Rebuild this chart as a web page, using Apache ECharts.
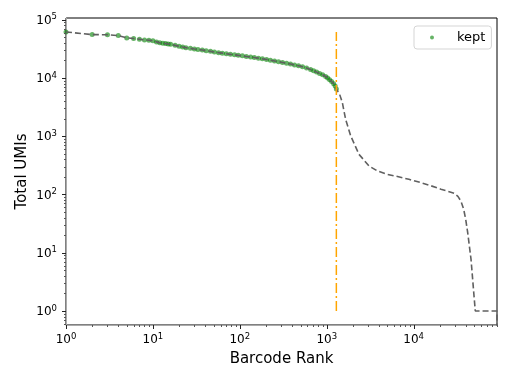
<!DOCTYPE html>
<html><head><meta charset="utf-8">
<script src="https://cdn.jsdelivr.net/npm/echarts@6/dist/echarts.min.js"></script>
<style>html,body{margin:0;padding:0;background:#fff}#c{width:512px;height:384px}</style>
</head><body><div id="c"></div>
<script>
// ---- data ----
const ranks = [1,2,3,4,5,6,7,8,9,10,11,12,13,14,15,
  16,18,20,22,24,27,30,33,37,41,46,51,57,63,70,78,87,96,107,119,133,147,164,182,203,225,251,279,310,345,383,426,474,527,586,652,706,765,828,897,971,1024,1080,1139,1201,1250,1290,
  1409,1513,1650,1890,2350,3070,3840,4910,6520,8810,12100,15800,20600,29300,32300,35000,37600,39700,41900,45700,49100,51200,91000,91000];
const umis = [61500,55300,55000,53200,48600,47300,46000,44900,44200,43200,41500,39900,39300,38800,38200,
  37620,36160,35040,33950,33030,32130,31380,30770,30050,29230,28550,27770,27120,26590,25970,25360,24860,24380,23900,23350,22890,22350,21830,21240,20740,20170,19550,18940,18420,17850,17300,16700,16120,15490,14770,13980,13280,12570,11890,11300,10570,9960,9316,8680,7925,7265,6455,
  5200,3750,1940,1005,488,308,253,222,203,182,160,141,123,105,93,77,56,37.6,22,7.8,2.1,1,1,0.3];
const cutoffRank = 1290;
const legendLabel = 'kept';
const xLabel = 'Barcode Rank';
const yLabel = 'Total UMIs';
const xRange = [1, 91000];
const yRange = [0.576, 106600];

// ---- derived series ----
const lineData = ranks.map((r, i) => [r, umis[i]]);
const keptData = lineData.filter(p => p[0] <= cutoffRank);
const maxUmi = Math.max(...umis);
const cutoffData = [[cutoffRank, 1], [cutoffRank, maxUmi]];

const FONT = 'DejaVu Sans';
function powLabel(v) {
  const e = Math.log10(v), r = Math.round(e);
  if (Math.abs(e - r) > 1e-6) return '';
  return '{b|10}{s|' + r + '}';
}
const rich = {
  b: {fontFamily: FONT, fontSize: 12, color: '#000', lineHeight: 14, verticalAlign: 'bottom'},
  s: {fontFamily: FONT, fontSize: 8.5, color: '#000', lineHeight: 2, verticalAlign: 'top'}
};

const chart = echarts.init(document.getElementById('c'), null, {renderer: 'canvas', width: 512, height: 384});
const option = {
  animation: false,
  backgroundColor: '#fff',
  grid: {left: 66, top: 18, width: 431, height: 307, show: true, borderColor: '#000', borderWidth: 1, backgroundColor: 'transparent'},
  legend: {
    data: [legendLabel], left: 414, top: 26, icon: 'circle', itemWidth: 4, itemHeight: 4,
    padding: [5, 6, 5, 16], borderColor: '#d5d5d5', borderWidth: 1, borderRadius: 3,
    backgroundColor: 'rgba(255,255,255,0.8)',
    textStyle: {fontFamily: FONT, fontSize: 13, color: '#000', padding: [0, 0, 0, 18]}
  },
  xAxis: {
    type: 'log', logBase: 10, min: xRange[0], max: xRange[1],
    name: xLabel, nameLocation: 'middle', nameGap: 27, nameMoveOverlap: false,
    nameTextStyle: {fontFamily: FONT, fontSize: 15, color: '#000'},
    axisLine: {show: true, lineStyle: {color: '#aaaaaa', width: 1}},
    axisTick: {show: false}, minorTick: {show: false}, splitLine: {show: false},
    axisLabel: {formatter: powLabel, rich: rich, margin: 7}
  },
  yAxis: {
    type: 'log', logBase: 10, min: yRange[0], max: yRange[1],
    name: yLabel, nameLocation: 'middle', nameGap: 36, nameMoveOverlap: false,
    nameTextStyle: {fontFamily: FONT, fontSize: 15, color: '#000'},
    axisLine: {show: true, lineStyle: {color: '#aaaaaa', width: 1}},
    axisTick: {show: false}, minorTick: {show: false}, splitLine: {show: false},
    axisLabel: {formatter: powLabel, rich: rich, margin: 9}
  },
  series: [
    {name: legendLabel, type: 'scatter', data: keptData, symbolSize: 5,
      itemStyle: {color: 'rgba(0,128,0,0.75)'}, z: 2},
    {name: 'all', type: 'line', data: lineData, showSymbol: false, clip: true,
      lineStyle: {color: '#606060', width: 1.6, type: [6, 3]}, z: 3},
    {name: 'cutoff', type: 'line', data: cutoffData, showSymbol: false,
      lineStyle: {color: '#ffa500', width: 1.5, type: [10, 3, 2, 3]}, z: 4}
  ]
};
chart.setOption(option);

// ---- log ticks (major + minor), positioned through the axes' own scales ----
const els = [];
const yb = Math.round(chart.convertToPixel({yAxisIndex: 0}, yRange[0]));
const xl = Math.round(chart.convertToPixel({xAxisIndex: 0}, xRange[0]));
function tickX(v, len, w, c) {
  const p = Math.round(chart.convertToPixel({xAxisIndex: 0}, v)) + 0.5;
  els.push({type: 'line', silent: true, z: 10, shape: {x1: p, y1: yb, x2: p, y2: yb + len}, style: {stroke: c, lineWidth: w}});
}
function tickY(v, len, w, c) {
  const p = Math.round(chart.convertToPixel({yAxisIndex: 0}, v)) + 0.5;
  els.push({type: 'line', silent: true, z: 10, shape: {x1: xl, y1: p, x2: xl - len, y2: p}, style: {stroke: c, lineWidth: w}});
}
for (let d = -1; d <= 5; d++) {
  for (let m = 1; m <= 9; m++) {
    const v = m * Math.pow(10, d);
    const major = m === 1;
    if (v >= xRange[0] && v <= xRange[1]) tickX(v, major ? 4 : 2, 1, major ? '#222' : '#555');
    if (v >= yRange[0] && v <= yRange[1]) tickY(v, major ? 4 : 2, 1, major ? '#222' : '#555');
  }
}
chart.setOption({graphic: {elements: els}});
</script>
</body></html>
